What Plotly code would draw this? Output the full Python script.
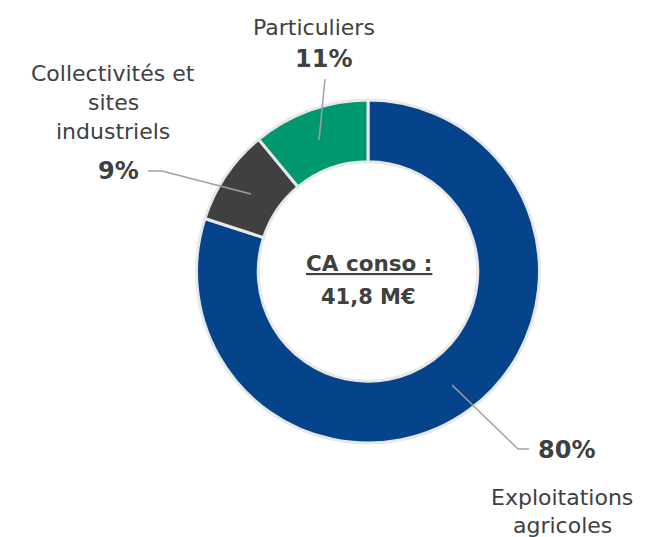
import plotly.graph_objects as go

# Data
categories = ["Exploitations agricoles", "Collectivités et sites industriels", "Particuliers"]
values = [80, 9, 11]
pct_labels = ["80%", "9%", "11%"]
colors = ["#05448A", "#404040", "#00996F"]
center_title = "CA conso :"
center_value = "41,8 M€"

W, H = 646, 537
FONT = "DejaVu Sans"
TXT = "#404040"


def px(x):
    return x / W


def py(y):
    return 1 - y / H


fig = go.Figure()
fig.add_trace(go.Pie(
    labels=categories,
    values=values,
    sort=False,
    direction="clockwise",
    rotation=0,
    hole=0.64,
    marker=dict(colors=colors, line=dict(color="#E8E8E8", width=3)),
    textinfo="none",
    hoverinfo="label+percent",
    showlegend=False,
    domain=dict(x=[px(196), px(540)], y=[py(443), py(100)]),
))

annotations = []


def ann(text, x, y, size, bold=False):
    t = f"<b>{text}</b>" if bold else text
    annotations.append(dict(
        text=t, x=px(x), y=py(y), xref="paper", yref="paper",
        showarrow=False, xanchor="center", yanchor="middle",
        font=dict(family=FONT, size=size, color=TXT),
    ))


LBL = 22
PCT = 24
# Particuliers
ann("Particuliers", 314, 27, LBL)
ann(pct_labels[2], 323, 59, PCT, bold=True)
# Collectivités
ann("Collectivités et", 113, 73, LBL)
ann("sites", 113, 102, LBL)
ann("industriels", 113, 131, LBL)
ann(pct_labels[1], 118, 171, PCT, bold=True)
# Exploitations
ann(pct_labels[0], 566, 450, PCT, bold=True)
ann("Exploitations", 562, 497, LBL)
ann("agricoles", 562, 525, LBL)
# Center
ann("<u>" + center_title + "</u>", 369, 263, 21.5, bold=True)
ann(center_value, 368, 297, 21, bold=True)

line_style = dict(color="#A0A0A0", width=1.5)
shapes = [
    dict(type="path", xref="paper", yref="paper",
         path=f"M {px(325)} {py(79)} L {px(319)} {py(140)}", line=line_style),
    dict(type="path", xref="paper", yref="paper",
         path=f"M {px(148)} {py(171)} L {px(162)} {py(171)} L {px(251)} {py(194)}", line=line_style),
    dict(type="path", xref="paper", yref="paper",
         path=f"M {px(452)} {py(385)} L {px(518)} {py(449)} L {px(529)} {py(449)}", line=line_style),
]

fig.update_layout(
    width=W, height=H,
    margin=dict(l=0, r=0, t=0, b=0),
    paper_bgcolor="white", plot_bgcolor="white",
    annotations=annotations,
    shapes=shapes,
)

fig.write_html(
    "out.html",
    config={"displayModeBar": False},
    post_script="document.body.style.margin='0';document.body.style.padding='0';document.documentElement.style.overflow='hidden';",
)
